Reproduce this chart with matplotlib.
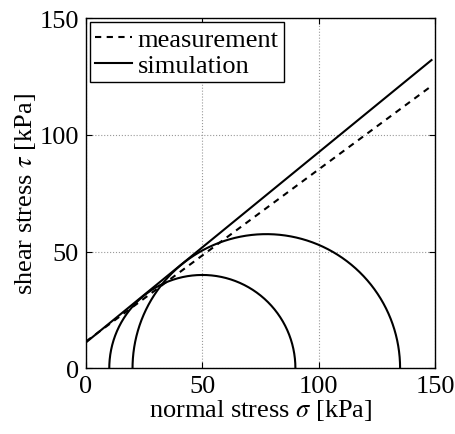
import matplotlib
matplotlib.use("Agg")
import matplotlib.pyplot as plt
import numpy as np

# Mohr circles (sigma_3, sigma_1) in kPa
circle_lo = [10, 20]
circle_hi = [90, 135]

# failure envelopes: (sigma, tau) end points
meas_sigma = [0, 148.5]
meas_tau = [11.5, 121]
sim_sigma = [0, 148.5]
sim_tau = [11.1, 132.1]

plt.rcParams['font.family'] = 'Liberation Serif'
plt.rcParams['mathtext.fontset'] = 'stix'
plt.rcParams['font.size'] = 19

fig = plt.figure(figsize=(4.56, 4.35), dpi=100)
ax = fig.add_axes([86 / 456, 1 - 369.3 / 435, 349 / 456, 350 / 435])

ax.plot(meas_sigma, meas_tau, 'k', lw=1.5, dashes=(3, 2.6), label='measurement')
ax.plot(sim_sigma, sim_tau, 'k-', lw=1.5, label='simulation')

for lo, hi in zip(circle_lo, circle_hi):
    c = (lo + hi) / 2
    r = (hi - lo) / 2
    t = np.linspace(0, np.pi, 300)
    ax.plot(c + r * np.cos(t), r * np.sin(t), 'k-', lw=1.5)

ax.set_xlim(0, 150)
ax.set_ylim(0, 150)
ax.set_xticks([0, 50, 100, 150])
ax.set_yticks([0, 50, 100, 150])
ax.grid(True, linestyle=':', color='#999999', lw=0.8)
ax.tick_params(direction='in', top=True, right=True, length=4, pad=5)
for s in ax.spines.values():
    s.set_linewidth(1.0)

ax.set_xlabel(r'normal stress $\sigma$ [kPa]', labelpad=0)
ax.set_ylabel(r'shear stress $\tau$ [kPa]', labelpad=1)

leg = ax.legend(loc='upper left', handlelength=1.4, handletextpad=0.2,
                borderpad=0.2, borderaxespad=0.15, labelspacing=0.1,
                fancybox=False, framealpha=1, edgecolor='k')
leg.get_frame().set_linewidth(1.0)

fig.savefig('out.png', dpi=100)
